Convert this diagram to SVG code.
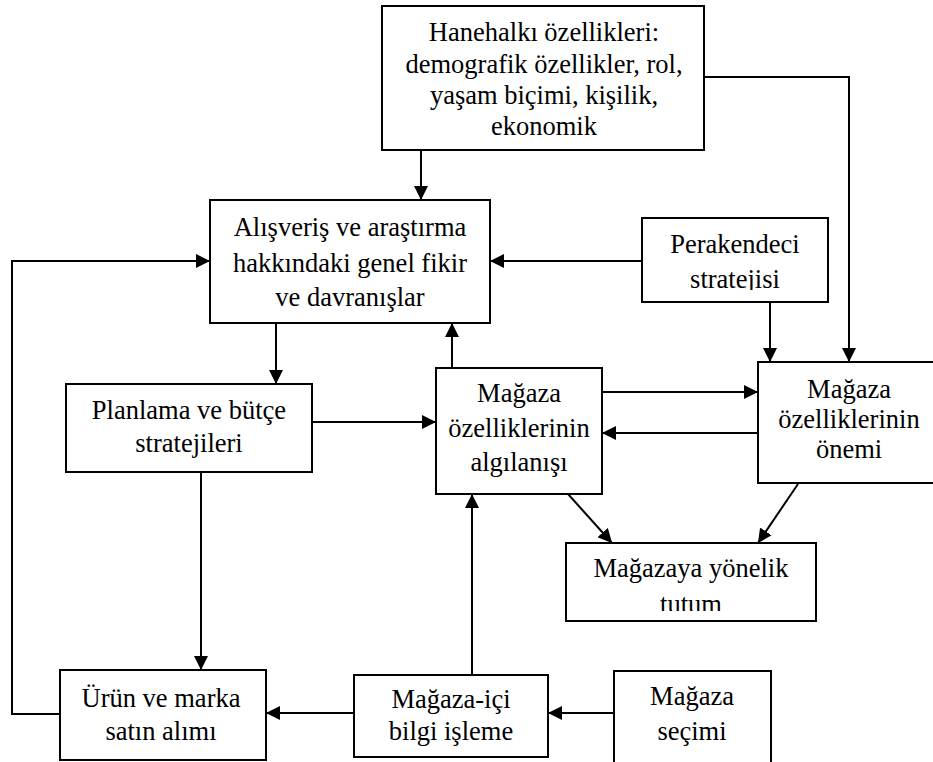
<svg xmlns="http://www.w3.org/2000/svg" width="933" height="762" viewBox="0 0 933 762">
<style>
.box{fill:#fff;stroke:#000;stroke-width:2}
</style>
<defs>
<marker id="ah" markerUnits="userSpaceOnUse" markerWidth="14" markerHeight="14" refX="14" refY="7" orient="auto">
<path d="M0,0 L14,7 L0,14 z" fill="#000"/>
</marker>
<clipPath id="clipTutum"><rect x="566" y="543" width="250" height="68"/></clipPath>
<clipPath id="clipPer"><rect x="642" y="218" width="186" height="72"/></clipPath>
</defs>
<rect width="933" height="762" fill="#fff"/>
<g id="connectors" fill="none" stroke="#000" stroke-width="2" marker-end="url(#ah)">
<path d="M421,150 V200"/>
<path d="M704,77 H849 V362"/>
<path d="M642,261 H490"/>
<path d="M770,302 V362"/>
<path d="M276,323 V384"/>
<path d="M452,368 V323"/>
<path d="M60,714 H12 V261 H210"/>
<path d="M312,422 H436"/>
<path d="M201,472 V670"/>
<path d="M602,392 H758"/>
<path d="M758,433 H602"/>
<path d="M568,494 L612,543"/>
<path d="M798,484 L758,543"/>
<path d="M354,713 H266"/>
<path d="M472,675 V494"/>
<path d="M614,713 H548"/>
</g>
<g id="hanehalki">
<rect class="box" x="382" y="6" width="322" height="144"/>
<text font-family="Liberation Serif, serif" font-size="26.5" text-anchor="middle" x="544" y="41">Hanehalkı özellikleri:</text>
<text font-family="Liberation Serif, serif" font-size="26.5" text-anchor="middle" x="544" y="73">demografik özellikler, rol,</text>
<text font-family="Liberation Serif, serif" font-size="26.5" text-anchor="middle" x="544" y="104">yaşam biçimi, kişilik,</text>
<text font-family="Liberation Serif, serif" font-size="26.5" text-anchor="middle" x="544" y="135">ekonomik</text>
</g>
<g id="alisveris">
<rect class="box" x="210" y="200" width="280" height="123"/>
<text font-family="Liberation Serif, serif" font-size="26.5" text-anchor="middle" x="350" y="236">Alışveriş ve araştırma</text>
<text font-family="Liberation Serif, serif" font-size="26.5" text-anchor="middle" x="350" y="272">hakkındaki genel fikir</text>
<text font-family="Liberation Serif, serif" font-size="26.5" text-anchor="middle" x="350" y="306">ve davranışlar</text>
</g>
<g id="perakendeci">
<rect class="box" x="642" y="218" width="186" height="84"/>
<text font-family="Liberation Serif, serif" font-size="26.5" text-anchor="middle" x="735" y="253">Perakendeci</text>
<text font-family="Liberation Serif, serif" font-size="26.5" text-anchor="middle" x="735" y="288" clip-path="url(#clipPer)">stratejisi</text>
</g>
<g id="planlama">
<rect class="box" x="66" y="384" width="246" height="88"/>
<text font-family="Liberation Serif, serif" font-size="26.5" text-anchor="middle" x="189" y="419">Planlama ve bütçe</text>
<text font-family="Liberation Serif, serif" font-size="26.5" text-anchor="middle" x="189" y="452">stratejileri</text>
</g>
<g id="algilanisi">
<rect class="box" x="436" y="368" width="166" height="126"/>
<text font-family="Liberation Serif, serif" font-size="26.5" text-anchor="middle" x="519" y="402">Mağaza</text>
<text font-family="Liberation Serif, serif" font-size="26.5" text-anchor="middle" x="519" y="437">özelliklerinin</text>
<text font-family="Liberation Serif, serif" font-size="26.5" text-anchor="middle" x="519" y="471">algılanışı</text>
</g>
<g id="onemi">
<rect class="box" x="758" y="362" width="182" height="121"/>
<text font-family="Liberation Serif, serif" font-size="26.5" text-anchor="middle" x="849" y="398">Mağaza</text>
<text font-family="Liberation Serif, serif" font-size="26.5" text-anchor="middle" x="849" y="428">özelliklerinin</text>
<text font-family="Liberation Serif, serif" font-size="26.5" text-anchor="middle" x="849" y="458">önemi</text>
</g>
<g id="tutum">
<rect class="box" x="566" y="543" width="250" height="78"/>
<text font-family="Liberation Serif, serif" font-size="26.5" text-anchor="middle" x="691" y="577">Mağazaya yönelik</text>
<text font-family="Liberation Serif, serif" font-size="26.5" text-anchor="middle" x="691" y="613" clip-path="url(#clipTutum)">tutum</text>
</g>
<g id="urun">
<rect class="box" x="60" y="670" width="206" height="90"/>
<text font-family="Liberation Serif, serif" font-size="26.5" text-anchor="middle" x="161" y="707">Ürün ve marka</text>
<text font-family="Liberation Serif, serif" font-size="26.5" text-anchor="middle" x="161" y="740">satın alımı</text>
</g>
<g id="magazaici">
<rect class="box" x="354" y="675" width="194" height="82"/>
<text font-family="Liberation Serif, serif" font-size="26.5" text-anchor="middle" x="451" y="708">Mağaza-içi</text>
<text font-family="Liberation Serif, serif" font-size="26.5" text-anchor="middle" x="451" y="740">bilgi işleme</text>
</g>
<g id="secimi">
<rect class="box" x="614" y="671" width="157" height="100"/>
<text font-family="Liberation Serif, serif" font-size="26.5" text-anchor="middle" x="692" y="705">Mağaza</text>
<text font-family="Liberation Serif, serif" font-size="26.5" text-anchor="middle" x="692" y="740">seçimi</text>
</g>
</svg>
